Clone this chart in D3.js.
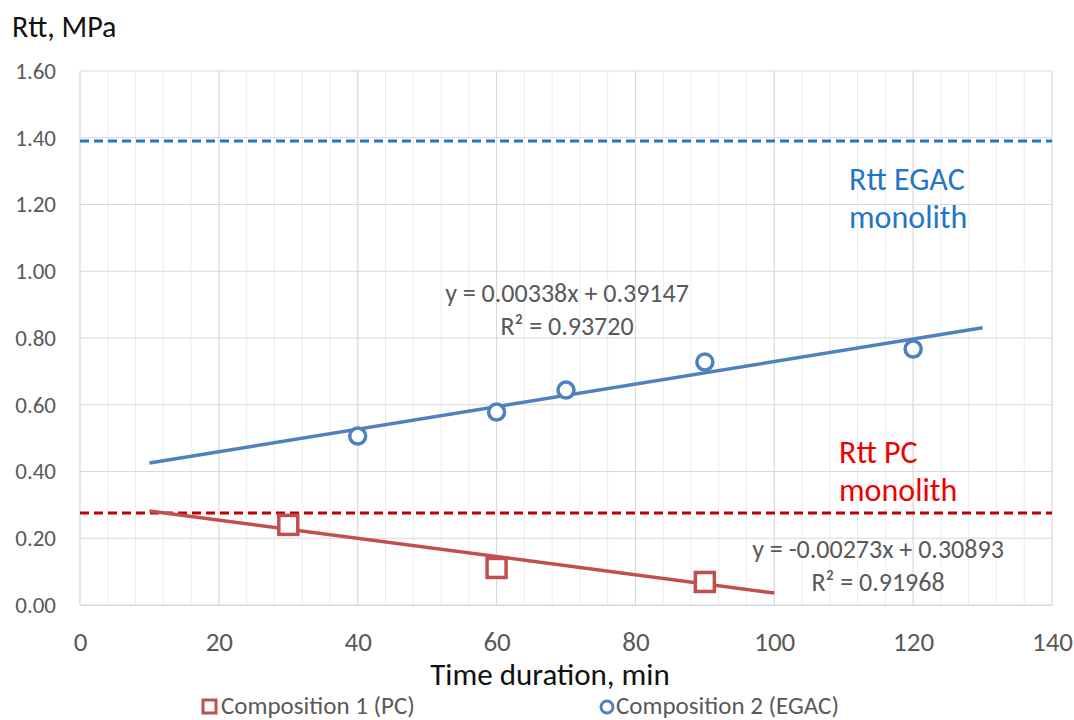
<!DOCTYPE html>
<html>
<head>
<meta charset="utf-8">
<title>Rtt vs time</title>
<style>
  body { margin: 0; background: #fff; font-family: Carlito, "Open Sans", sans-serif; }
  .tick text { fill: #595959; font-family: Carlito, "Open Sans", sans-serif; }
  .x-axis .tick text { font-size: 27px; }
  .y-axis .tick text { font-size: 23px; }
  .eq { fill: #595959; font-size: 26px; }
</style>
<script src="https://cdn.jsdelivr.net/npm/d3@7"></script>
</head>
<body>
<script>
var width = 1074, height = 720;
var margin = {top: 71, right: 22, bottom: 115, left: 80};

// data
var pcTime = [30, 60, 90];
var pcRtt = [0.24, 0.111, 0.069];
var egacTime = [40, 60, 70, 90, 120];
var egacRtt = [0.506, 0.578, 0.644, 0.728, 0.767];
var pcTrend = {slope: -0.00273, intercept: 0.30893, r2: "0.91968", from: 10, to: 100};
var egacTrend = {slope: 0.00338, intercept: 0.39147, r2: "0.93720", from: 10, to: 130};
var egacMonolith = 1.39;
var pcMonolith = 0.276;
var xTicks = [0, 20, 40, 60, 80, 100, 120, 140];
var yTicks = [0, 0.2, 0.4, 0.6, 0.8, 1.0, 1.2, 1.4, 1.6];

var svg = d3.select("body").append("svg")
  .attr("width", width).attr("height", height);

var x = d3.scaleLinear().domain([0, 140]).range([margin.left, width - margin.right]);
var y = d3.scaleLinear().domain([0, 1.6]).range([height - margin.bottom, margin.top]);

// minor vertical grid every 4
svg.append("g").selectAll("line")
  .data(d3.range(0, 141, 4))
  .enter().append("line")
  .attr("x1", d => x(d)).attr("x2", d => x(d))
  .attr("y1", y(0)).attr("y2", y(1.6))
  .attr("stroke", "#ececec").attr("stroke-width", 1);

// major grid
svg.append("g").selectAll("line")
  .data(xTicks)
  .enter().append("line")
  .attr("x1", d => x(d)).attr("x2", d => x(d))
  .attr("y1", y(0)).attr("y2", y(1.6))
  .attr("stroke", "#d9d9d9").attr("stroke-width", 1);
svg.append("g").selectAll("line")
  .data(yTicks)
  .enter().append("line")
  .attr("x1", x(0)).attr("x2", x(140))
  .attr("y1", d => y(d)).attr("y2", d => y(d))
  .attr("stroke", "#d9d9d9").attr("stroke-width", 1);

// axes
var xAxis = svg.append("g").attr("class", "x-axis")
  .attr("transform", "translate(0," + y(0) + ")")
  .call(d3.axisBottom(x).tickValues(xTicks).tickSize(0).tickPadding(27));
xAxis.select(".domain").attr("stroke", "#d9d9d9");

var yAxis = svg.append("g").attr("class", "y-axis")
  .attr("transform", "translate(" + x(0) + ",0)")
  .call(d3.axisLeft(y).tickValues(yTicks).tickFormat(d3.format(".2f")).tickSize(0).tickPadding(24));
yAxis.select(".domain").remove();

// titles
svg.append("text").attr("x", 12).attr("y", 37)
  .attr("font-size", 30).attr("fill", "#111").text("Rtt, MPa");
svg.append("text").attr("x", 550).attr("y", 685)
  .attr("text-anchor", "middle").attr("font-size", 31).attr("fill", "#111")
  .text("Time duration, min");

// monolith lines
svg.append("line")
  .attr("x1", x(0)).attr("x2", x(140))
  .attr("y1", y(egacMonolith)).attr("y2", y(egacMonolith))
  .attr("stroke", "#1f77c9").attr("stroke-width", 3).attr("stroke-dasharray", "9,5");
svg.append("line")
  .attr("x1", x(0)).attr("x2", x(140))
  .attr("y1", y(pcMonolith)).attr("y2", y(pcMonolith))
  .attr("stroke", "#c00000").attr("stroke-width", 3).attr("stroke-dasharray", "9,5");

var egacLbl = svg.append("text").attr("fill", "#1f77c9").attr("font-size", 32);
egacLbl.append("tspan").attr("x", 849).attr("y", 190).text("Rtt EGAC");
egacLbl.append("tspan").attr("x", 849).attr("y", 228).text("monolith");
var pcLbl = svg.append("text").attr("fill", "#ee0000").attr("font-size", 32);
pcLbl.append("tspan").attr("x", 839).attr("y", 463).text("Rtt PC");
pcLbl.append("tspan").attr("x", 839).attr("y", 501).text("monolith");

// trend lines
function trend(t) {
  return [[t.from, t.slope * t.from + t.intercept], [t.to, t.slope * t.to + t.intercept]];
}
var line = d3.line().x(d => x(d[0])).y(d => y(d[1]));
svg.append("path").attr("d", line(trend(egacTrend)))
  .attr("stroke", "#4f81bd").attr("stroke-width", 3.5).attr("fill", "none");
svg.append("path").attr("d", line(trend(pcTrend)))
  .attr("stroke", "#c0504d").attr("stroke-width", 3.5).attr("fill", "none");

// markers
svg.append("g").selectAll("circle")
  .data(egacTime.map((t, i) => [t, egacRtt[i]]))
  .enter().append("circle")
  .attr("cx", d => x(d[0])).attr("cy", d => y(d[1])).attr("r", 8)
  .attr("fill", "#fff").attr("stroke", "#4f81bd").attr("stroke-width", 3.5);
svg.append("g").selectAll("rect")
  .data(pcTime.map((t, i) => [t, pcRtt[i]]))
  .enter().append("rect")
  .attr("x", d => x(d[0]) - 9.5).attr("y", d => y(d[1]) - 9.5)
  .attr("width", 19).attr("height", 19)
  .attr("fill", "#fff").attr("stroke", "#c0504d").attr("stroke-width", 3.5);

// equations
function fmt(t) {
  return "y = " + t.slope.toFixed(5) + "x + " + t.intercept.toFixed(5);
}
var eq1 = svg.append("text").attr("class", "eq").attr("text-anchor", "middle");
eq1.append("tspan").attr("x", 567).attr("y", 302).text(fmt(egacTrend));
eq1.append("tspan").attr("x", 567).attr("y", 335).text("R² = " + egacTrend.r2);
var eq2 = svg.append("text").attr("class", "eq").attr("text-anchor", "middle");
eq2.append("tspan").attr("x", 878).attr("y", 558).text(fmt(pcTrend));
eq2.append("tspan").attr("x", 878).attr("y", 591).text("R² = " + pcTrend.r2);

// legend
var leg = svg.append("g").attr("font-size", 25).attr("fill", "#595959");
leg.append("rect").attr("x", 203).attr("y", 700).attr("width", 13).attr("height", 13)
  .attr("fill", "#fff").attr("stroke", "#c0504d").attr("stroke-width", 3);
leg.append("text").attr("x", 221).attr("y", 714).text("Composition 1 (PC)");
leg.append("circle").attr("cx", 607).attr("cy", 707).attr("r", 6)
  .attr("fill", "#fff").attr("stroke", "#4f81bd").attr("stroke-width", 3);
leg.append("text").attr("x", 616).attr("y", 714).text("Composition 2 (EGAC)");
</script>
</body>
</html>
